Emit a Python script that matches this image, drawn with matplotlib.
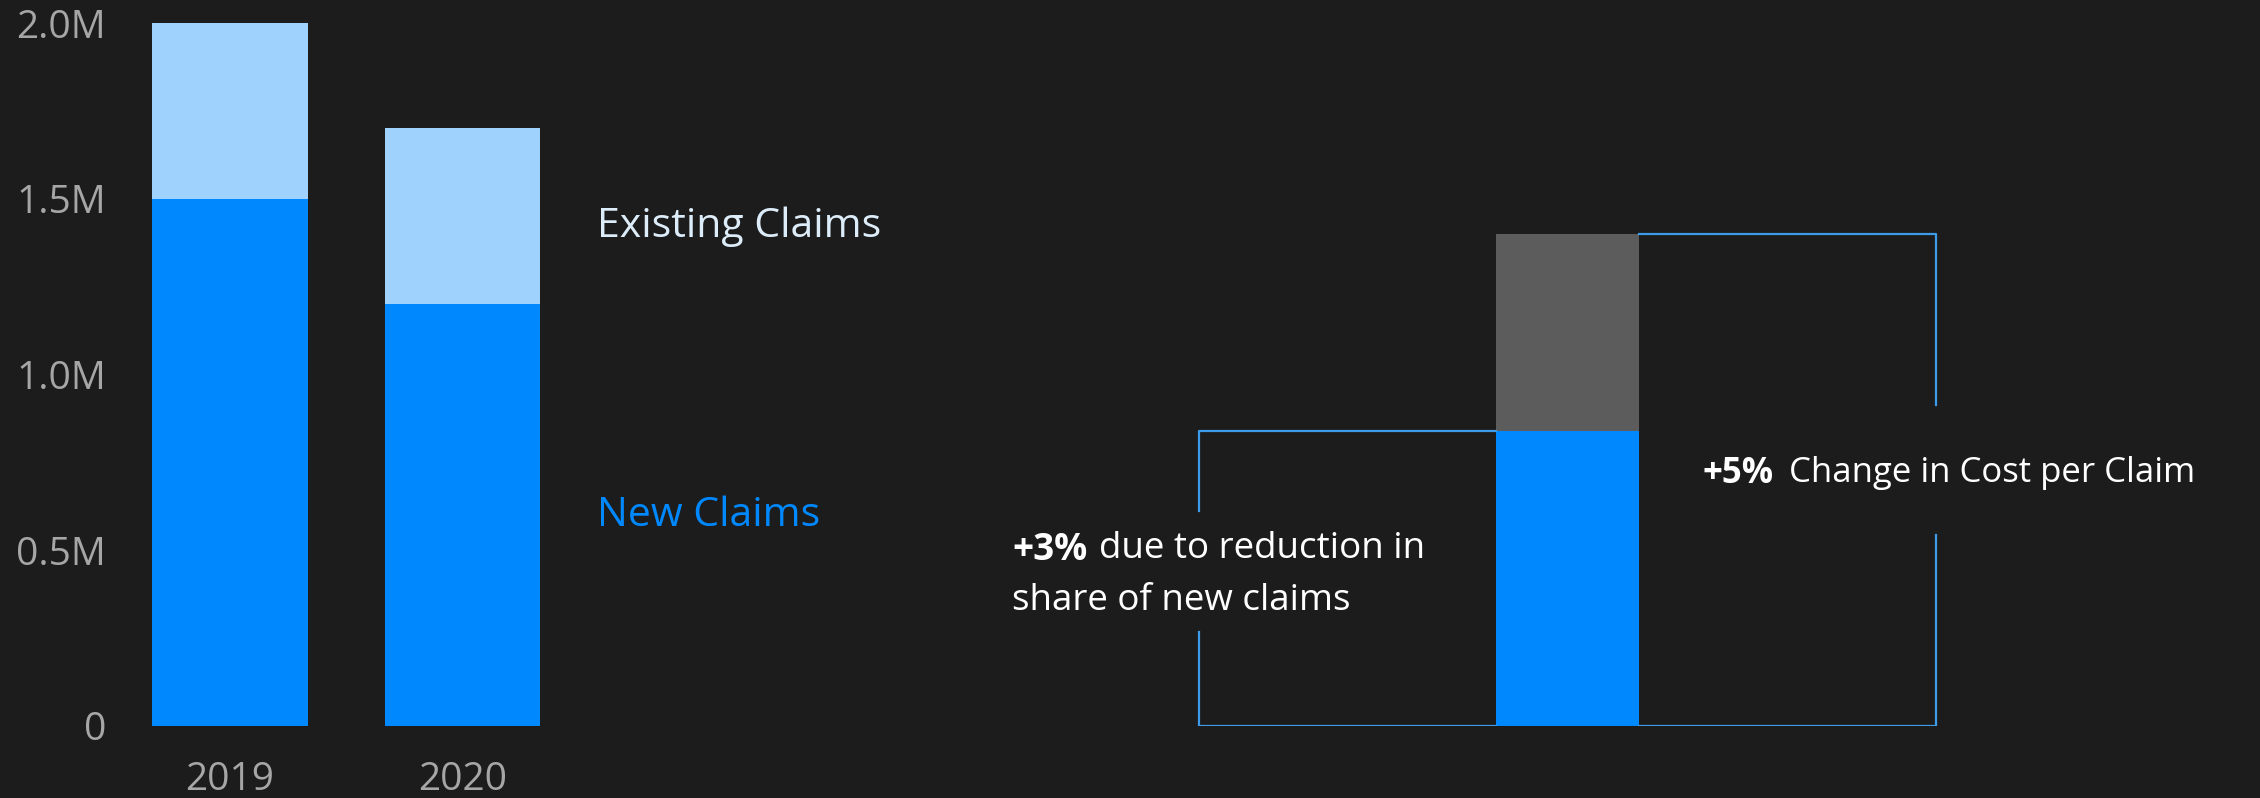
import matplotlib
matplotlib.use("Agg")
import matplotlib.pyplot as plt
import numpy as np

# ---- data ----
years = ["2019", "2020"]
new_claims = [1.5e6, 1.2e6]
existing_claims = [0.5e6, 0.5e6]
y_ticks = [0, 0.5e6, 1.0e6, 1.5e6, 2.0e6]
y_tick_labels = ["0", "0.5M", "1.0M", "1.5M", "2.0M"]

cost_base = [42]
cost_increase = [28]
left_note_bold = "+3%"
left_note_lines = ["due to reduction in", "share of new claims"]
right_note_bold = "+5%"
right_note_text = "Change in Cost per Claim"

# ---- style ----
BG = "#1c1c1c"
BLUE = "#0088ff"
LIGHT = "#9fd3fd"
GRAY = "#5c5c5c"
LINE = "#3d9be9"
TICK = "#a6a6a6"
FONT = ["Open Sans", "DejaVu Sans"]
plt.rcParams["font.family"] = FONT

W, H = 2260, 798
fig = plt.figure(figsize=(W / 100, H / 100), dpi=100, facecolor=BG)

def px_axes(x0, y_top, x1, y_bot):
    return fig.add_axes([x0 / W, 1 - y_bot / H, (x1 - x0) / W, (y_bot - y_top) / H])

y_top_px, y_bot_px = 23, 726

# ---- left stacked bars ----
ax = px_axes(125.4, y_top_px, 602, y_bot_px)
ax.set_facecolor(BG)
x = np.arange(len(years))
ax.bar(x, new_claims, width=0.667, color=BLUE, zorder=2)
ax.bar(x, existing_claims, bottom=new_claims, width=0.667, color=LIGHT, zorder=2)
ax.set_xlim(-0.45, 1.6)
ax.set_ylim(0, 2.0e6)
ax.set_yticks(y_ticks)
ax.set_yticklabels(y_tick_labels)
ax.set_xticks(x)
ax.set_xticklabels(years)
ax.tick_params(axis="both", length=0, colors=TICK, labelsize=28)
ax.tick_params(axis="y", pad=14)
ax.tick_params(axis="x", pad=25)
for s in ax.spines.values():
    s.set_visible(False)

fig.text(597 / W, 1 - 222 / H, "Existing Claims", color="#dcecf8", fontsize=29.5,
         ha="left", va="center_baseline")
fig.text(597 / W, 1 - 511 / H, "New Claims", color=BLUE, fontsize=29.5,
         ha="left", va="center_baseline")

# ---- right decomposition bar ----
ax2 = px_axes(1000, y_top_px, 2260, y_bot_px)
ax2.set_facecolor("none")
ax2.set_xlim(-3.969, 4.843)
ax2.set_ylim(0, 100)
ax2.axis("off")
ax2.bar([0], cost_base, width=1.0, color=BLUE, zorder=2)
ax2.bar([0], cost_increase, bottom=cost_base, width=1.0, color=GRAY, zorder=2)

base_top = cost_base[0]
total_top = cost_base[0] + cost_increase[0]
lx, rx = -2.575, 2.58
lw = 1.6
# left bracket
ax2.plot([-0.5, lx, lx], [base_top, base_top, 30.6], color=LINE, lw=lw)
ax2.plot([lx, lx, -0.5], [13.4, 0, 0], color=LINE, lw=lw)
# right bracket
ax2.plot([0.5, rx, rx], [total_top, total_top, 45.7], color=LINE, lw=lw)
ax2.plot([rx, rx, 0.5], [27.2, 0, 0], color=LINE, lw=lw)

fig.canvas.draw()
r = fig.canvas.get_renderer()

fs_left = 26.5
fs_right = 25
t = fig.text(1012 / W, 1 - 545 / H, left_note_bold, color="white", fontsize=fs_left,
             fontweight="bold", ha="left", va="center_baseline")
bb = t.get_window_extent(r)
fig.text((bb.x1 + 12) / W, 1 - 545 / H, left_note_lines[0], color="white",
         fontsize=fs_left, ha="left", va="center_baseline")
fig.text(1012 / W, 1 - 596 / H, left_note_lines[1], color="white",
         fontsize=fs_left, ha="left", va="center_baseline")

t2 = fig.text(1702 / W, 1 - 469 / H, right_note_bold, color="white", fontsize=fs_right,
              fontweight="bold", ha="left", va="center_baseline")
bb2 = t2.get_window_extent(r)
fig.text((bb2.x1 + 16) / W, 1 - 469 / H, right_note_text, color="white",
         fontsize=fs_right, ha="left", va="center_baseline")

fig.savefig("out.png", dpi=100, facecolor=BG)
